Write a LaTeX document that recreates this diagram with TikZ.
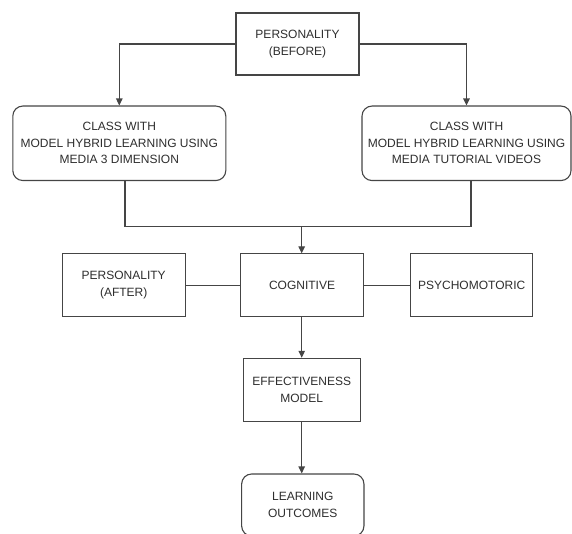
\documentclass[tikz,border=0pt]{standalone}
\usepackage{fontspec}
\setmainfont{Liberation Sans}
\usetikzlibrary{arrows.meta}
\definecolor{linec}{HTML}{454545}
\definecolor{textc}{HTML}{2E2E2E}
\tikzset{
  box/.style={draw=linec, line width=1.1pt, fill=white, text=textc, align=center,
    font=\fontsize{12}{16.5}\selectfont, inner sep=0pt, anchor=center},
  rbox/.style={box, rounded corners=10pt},
  conn/.style={draw=linec, line width=1.1pt},
  arr/.style={conn, -{Triangle[length=7pt,width=6.5pt]}}
}
\begin{document}
\begin{tikzpicture}[x=1pt,y=-1pt]
\useasboundingbox (0,0) rectangle (572,534);
\node[box, minimum width=123pt, minimum height=62pt] (top) at (297.5,44) {PERSONALITY\\(BEFORE)};
\node[rbox, minimum width=213pt, minimum height=74.5pt] (left) at (119.3,143.3) {CLASS WITH\\MODEL HYBRID LEARNING USING\\MEDIA 3 DIMENSION};
\node[rbox, minimum width=209pt, minimum height=74.5pt] (right) at (466.5,143.3) {CLASS WITH\\MODEL HYBRID LEARNING USING\\MEDIA TUTORIAL VIDEOS};
\node[box, minimum width=122.6pt, minimum height=62.7pt] (cog) at (302,285.3) {COGNITIVE};
\node[box, minimum width=122.7pt, minimum height=62.7pt] (pa) at (123.7,285.3) {PERSONALITY\\(AFTER)};
\node[box, minimum width=122pt, minimum height=62.7pt] (psy) at (471.7,285.3) {PSYCHOMOTORIC};
\node[box, minimum width=116.7pt, minimum height=63.4pt] (eff) at (301.7,390) {EFFECTIVENESS\\MODEL};
\node[rbox, minimum width=122.3pt, minimum height=62pt] (learn) at (302.8,505) {LEARNING\\OUTCOMES};
\coordinate (join) at (301.7,226.3);
\draw[arr] (top.west) -| (left.north);
\draw[arr] (top.east) -| (right.north);
\draw[conn] ([xshift=5.7pt]left.south) |- (join);
\draw[conn] ([xshift=4.5pt]right.south) |- (join);
\draw[arr] (join) -- (join |- cog.north);
\draw[conn] (pa.east) -- (cog.west);
\draw[conn] (cog.east) -- (psy.west);
\draw[arr] (cog.south -| join) -- (join |- eff.north);
\draw[arr] (eff.south -| join) -- (join |- learn.north);
\end{tikzpicture}
\end{document}
